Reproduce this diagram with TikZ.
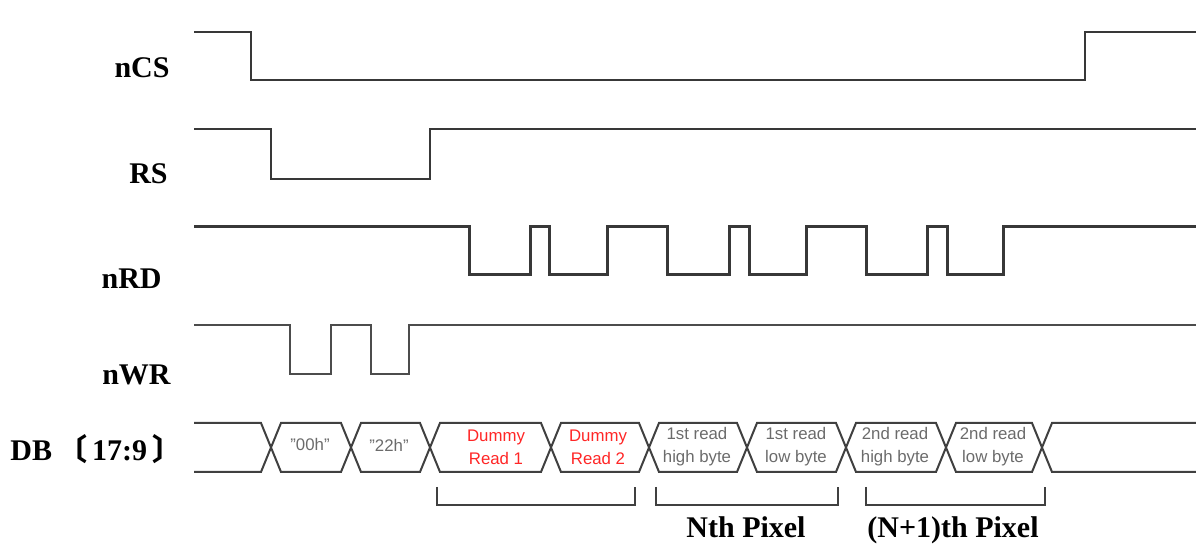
\documentclass[tikz,border=0pt]{standalone}
\usepackage{fontspec}
\setmainfont{Liberation Serif}
\setsansfont{Liberation Sans}
\newfontfamily\cjk{Noto Sans CJK SC}
\usepackage{xcolor}
\usepackage{tikz}

\begin{document}
\begin{tikzpicture}[x=0.5pt,y=-0.5pt,
    sig/.style={draw=black!78,line width=1pt},
    bus/.style={draw=black!75,line width=1pt},
    lbl/.style={font=\fontsize{15}{17}\selectfont\bfseries,inner sep=0pt},
    cell/.style={font=\sffamily\fontsize{8.4}{11.5}\selectfont,text=black!58,align=center,inner sep=0pt},
    dummy/.style={cell,text=red!85}
    ]
  \useasboundingbox (0,0) rectangle (1196,544);
  \draw[sig,line width=1.2pt] (194,32) -- (251,32) -- (251,80) -- (1085,80) -- (1085,32) -- (1196,32);
  \draw[sig] (194,129) -- (271,129) -- (271,179) -- (430,179) -- (430,129) -- (1196,129);
  \draw[sig,line width=1.5pt] (194,227) -- (469,227) -- (469,275) -- (530,275) -- (530,227) -- (549,227) -- (549,275)
    -- (607,275) -- (607,227) -- (667,227) -- (667,275) -- (729,275) -- (729,227) -- (749,227) -- (749,275)
    -- (806,275) -- (806,227) -- (866,227) -- (866,275) -- (927,275) -- (927,227) -- (947,227) -- (947,275)
    -- (1003,275) -- (1003,227) -- (1196,227);
  \draw[sig,draw=black!70] (194,325) -- (290,325) -- (290,374) -- (331,374) -- (331,325) -- (371,325) -- (371,374)
    -- (409,374) -- (409,325) -- (1196,325);
  \draw[bus] (194,423) -- (261,423) -- (281,472) -- (341,472) -- (361,423) -- (420,423) -- (440,472) -- (541,472)
    -- (561,423) -- (639,423) -- (659,472) -- (737,472) -- (757,423) -- (836,423) -- (856,472) -- (936,472)
    -- (956,423) -- (1032,423) -- (1052,472) -- (1196,472);
  \draw[bus] (194,472) -- (261,472) -- (281,423) -- (341,423) -- (361,472) -- (420,472) -- (440,423) -- (541,423)
    -- (561,472) -- (639,472) -- (659,423) -- (737,423) -- (757,472) -- (836,472) -- (856,423) -- (936,423)
    -- (956,472) -- (1032,472) -- (1052,423) -- (1196,423);
  \draw[bus] (437,487) -- (437,505) -- (635,505) -- (635,487);
  \draw[bus] (656,487) -- (656,505) -- (838,505) -- (838,487);
  \draw[bus] (866,487) -- (866,505) -- (1045,505) -- (1045,487);

  \node[lbl,anchor=east] (ncs) at (170,68) {nCS};
  \node[lbl,anchor=east] (rs) at (168,174) {RS};
  \node[lbl,anchor=east] (nrd) at (162,279) {nRD};
  \node[lbl,anchor=east] (nwr) at (171,375) {nWR};
  \node[lbl,anchor=west] (db) at (10,449) {DB\,{\cjk 〔}\,17:9\,{\cjk 〕}};
  \node[cell] (d00) at (310,445) {\symbol{34}00h\symbol{34}};
  \node[cell] (d22) at (389,445) {\symbol{34}22h\symbol{34}};
  \node[dummy] (dr1) at (496,447) {Dummy\\Read 1};
  \node[dummy] (dr2) at (598,447) {Dummy\\Read 2};
  \node[cell] (rd1h) at (697,447) {1st read\\high byte};
  \node[cell] (rd1l) at (796,447) {1st read\\low byte};
  \node[cell] (rd2h) at (895,447) {2nd read\\high byte};
  \node[cell] (rd2l) at (993,447) {2nd read\\low byte};
  \node[lbl,anchor=base] (pxn) at (746,538) {Nth Pixel};
  \node[lbl,anchor=base] (pxn1) at (953,538) {(N+1)th Pixel};
\end{tikzpicture}
\end{document}
